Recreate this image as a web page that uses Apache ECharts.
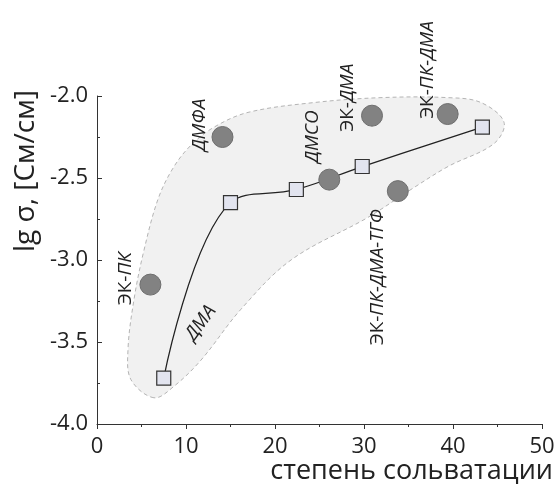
<!DOCTYPE html>
<html>
<head>
<meta charset="utf-8">
<script src="https://cdn.jsdelivr.net/npm/echarts@6/dist/echarts.min.js"></script>
<style>
  html, body { margin: 0; padding: 0; background: #ffffff; }
  #chart { width: 560px; height: 488px; }
</style>
</head>
<body>
<div id="chart"></div>
<script>
// DMA series: solvation degree vs log conductivity
const dmaX = [7.5, 15.0, 22.4, 29.8, 43.3];
const dmaY = [-3.72, -2.65, -2.57, -2.43, -2.19];
const dmaLabel = 'ДМА';

// Individual electrolytes
const solventNames = ['ЭК-ПК', 'ДМФА', 'ДМСО', 'ЭК-ДМА', 'ЭК-ПК-ДМА', 'ЭК-ПК-ДМА-ТГФ'];
const solventX = [6.0, 14.1, 26.1, 30.9, 39.4, 33.8];
const solventY = [-3.15, -2.25, -2.51, -2.12, -2.11, -2.58];

// Outline of the shaded region (data units)
const regionX = [6.40, 3.82, 3.48, 4.16, 5.28, 6.85, 8.54, 10.56, 13.15, 16.97, 24.38, 31.91,
                 39.44, 43.15, 45.73, 44.61, 39.44, 35.28, 30.45, 21.80, 16.18, 11.69, 8.65];
const regionY = [-3.84, -3.73, -3.55, -3.24, -2.94, -2.63, -2.44, -2.30, -2.19, -2.10, -2.04, -2.01,
                 -2.01, -2.04, -2.16, -2.29, -2.43, -2.57, -2.74, -3.00, -3.30, -3.61, -3.77];

// Axis ranges / ticks
const xTicks = [0, 10, 20, 30, 40, 50];
const yTicks = [-4.0, -3.5, -3.0, -2.5, -2.0];

const FONT = '"Open Sans", "DejaVu Sans", sans-serif';

// label placement around each circle (screen pixel offsets from the marker)
const labelOffsets = [[-25, -6], [-23, -12], [-17, -43], [-24, -18], [-20, -44], [-20, 86]];

// ECharts rotates the label offset together with the text; undo that so the
// offset is expressed in plain screen pixels.
function localOffset(off, deg) {
  const a = deg * Math.PI / 180, c = Math.cos(a), s = Math.sin(a);
  return [off[0] * c - off[1] * s, off[0] * s + off[1] * c];
}

function richName(name) {
  if (name.indexOf('ЭК-') === 0) {
    return '{n|ЭК-}{i|' + name.slice(3) + '}';
  }
  return '{i|' + name + '}';
}
const labelRich = {
  n: { fontFamily: FONT, fontSize: 19, color: '#222', fontStyle: 'normal' },
  i: { fontFamily: FONT, fontSize: 19, color: '#222', fontStyle: 'italic' }
};

const chart = echarts.init(document.getElementById('chart'), null, { renderer: 'canvas' });

const circleData = solventX.map((x, i) => ({
  value: [x, solventY[i]],
  label: {
    show: true,
    position: 'inside',
    rotate: 90,
    offset: localOffset(labelOffsets[i], 90),
    formatter: richName(solventNames[i]),
    rich: labelRich,
    align: 'center',
    verticalAlign: 'middle'
  }
}));

const lineData = dmaX.map((x, i) => {
  const d = { value: [x, dmaY[i]] };
  if (i === 0) {
    d.label = {
      show: true,
      position: 'inside',
      rotate: 54,
      offset: localOffset([37, -55], 54),
      formatter: '{i|' + dmaLabel + '}',
      rich: labelRich,
      align: 'center',
      verticalAlign: 'middle'
    };
  }
  return d;
});

const option = {
  backgroundColor: '#ffffff',
  animation: false,
  grid: { left: 97, right: 18, top: 96, bottom: 64 },
  xAxis: {
    type: 'value',
    min: xTicks[0],
    max: xTicks[xTicks.length - 1],
    interval: 10,
    axisLine: { lineStyle: { color: '#333', width: 1 } },
    axisTick: { show: true, inside: false, length: 5, lineStyle: { color: '#333' } },
    minorTick: { show: true, splitNumber: 2, length: 3, lineStyle: { color: '#333' } },
    splitLine: { show: false },
    axisLabel: { color: '#222', fontFamily: FONT, fontSize: 22, margin: 12 }
  },
  yAxis: {
    type: 'value',
    min: yTicks[0],
    max: yTicks[yTicks.length - 1],
    interval: 0.5,
    axisLine: { show: true, lineStyle: { color: '#333', width: 1 } },
    axisTick: { show: true, inside: true, length: 5, lineStyle: { color: '#333' } },
    minorTick: { show: true, splitNumber: 2, length: 3, lineStyle: { color: '#333' } },
    splitLine: { show: false },
    axisLabel: {
      color: '#222', fontFamily: FONT, fontSize: 22, margin: 9,
      formatter: v => v.toFixed(1)
    }
  },
  graphic: [
    {
      type: 'text',
      x: 26, y: 171, rotation: Math.PI / 2,
      style: {
        text: 'lg σ, [См/см]', font: '28px ' + FONT, fill: '#222',
        align: 'center', verticalAlign: 'middle'
      }
    },
    {
      type: 'text',
      x: 553, y: 471,
      style: {
        text: 'степень сольватации', font: '27px ' + FONT, fill: '#222',
        align: 'right', verticalAlign: 'middle'
      }
    }
  ],
  series: [
    {
      // shaded region drawn as a smoothed polygon in data space
      type: 'custom',
      silent: true,
      z: 1,
      data: [0],
      renderItem: (params, api) => ({
        type: 'polygon',
        shape: {
          points: regionX.map((x, i) => api.coord([x, regionY[i]])),
          smooth: 0.35
        },
        style: { fill: '#f1f1f1', stroke: '#b4b4b4', lineWidth: 1, lineDash: [4, 3] }
      })
    },
    {
      type: 'line',
      z: 3,
      data: lineData,
      smooth: 0.4,
      symbol: 'rect',
      symbolSize: 14,
      showAllSymbol: true,
      lineStyle: { color: '#222', width: 1.3 },
      itemStyle: { color: '#e2e4ef', borderColor: '#333', borderWidth: 1.2, opacity: 1 }
    },
    {
      type: 'scatter',
      z: 4,
      data: circleData,
      symbol: 'circle',
      symbolSize: 21,
      itemStyle: { color: '#828282', borderColor: '#6e6e6e', borderWidth: 1, opacity: 1 }
    }
  ]
};

chart.setOption(option);
</script>
</body>
</html>
